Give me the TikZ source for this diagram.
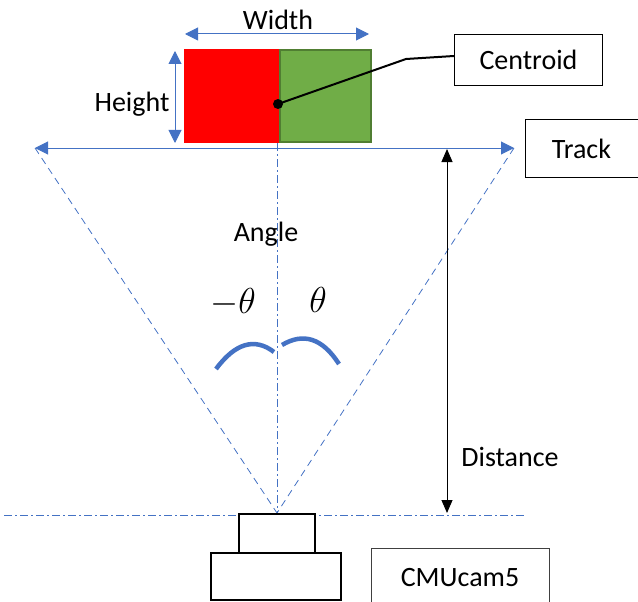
\documentclass[tikz,border=0pt]{standalone}
\usepackage{graphicx}
\usepackage{fontspec}
\setmainfont{Carlito}
\usetikzlibrary{arrows.meta}
\definecolor{lineblue}{HTML}{4472C4}
\definecolor{boxred}{HTML}{FF0000}
\definecolor{boxgreen}{HTML}{70AD47}
\definecolor{greenedge}{HTML}{507E32}
\newcommand{\biglbl}[1]{\scalebox{1.45}{$#1$}}
\tikzset{
  lbl/.style={font=\fontsize{28}{32}\selectfont, inner sep=0pt},
  mathlbl/.style={font=\fontsize{24}{28}\selectfont, inner sep=0pt},
  labelbox/.style={draw=black, line width=1.2pt, font=\fontsize{28}{32}\selectfont, inner sep=0pt},
  bluedim/.style={draw=lineblue, line width=1pt, {Triangle[length=13pt,width=13pt]}-{Triangle[length=13pt,width=13pt]}},
  blackdim/.style={draw=black, line width=1pt, {Triangle[length=13pt,width=11pt]}-{Triangle[length=13pt,width=11pt]}},
  fov/.style={draw=lineblue, line width=0.8pt, dash pattern=on 7pt off 5pt},
  axis/.style={draw=lineblue, line width=0.8pt, dash pattern=on 8pt off 3pt on 2pt off 3pt},
  anglearc/.style={draw=lineblue, line width=4.5pt},
  cambody/.style={draw=black, line width=2pt, fill=white}
}
\begin{document}
\begin{tikzpicture}[x=1pt,y=-1pt]
\useasboundingbox (0,0) rectangle (638,602);

% target blob: red and green halves
\fill[boxred] (184,49) rectangle (280,143);
\filldraw[fill=boxgreen, draw=greenedge, line width=1.5pt] (280,50) rectangle (371,142);

% centre axis and camera baseline
\coordinate (axtop) at (277,143);
\coordinate (lens) at (277,513);
\draw[axis] (axtop) -- (lens);
\coordinate (baseL) at (4,515);
\coordinate (baseR) at (525,515);
\draw[axis] (baseL) -- (baseR);

% field of view
\coordinate (trackL) at (35,148);
\coordinate (trackR) at (514,148);
\draw[fov] (trackL) -- (lens);
\draw[fov] (trackR) -- (lens);
\draw[bluedim] (trackL) -- (trackR);

% width and height dimensions
\coordinate (wL) at (185,34);
\coordinate (wR) at (369,34);
\draw[bluedim] (wL) -- (wR);
\node[lbl] (width) at (278,20) {Width};
\coordinate (hT) at (175,51);
\coordinate (hB) at (175,143);
\draw[bluedim] (hT) -- (hB);
\node[lbl] (height) at (132,104) {Height};

% centroid marker and callout
\node[circle, fill=black, inner sep=0pt, minimum size=10pt] (dot) at (278,104) {};
\node[labelbox, minimum width=148pt, minimum height=51pt] (centroid) at (528.5,60) {Centroid};
\coordinate (bend) at (406,59);
\draw[black, line width=2pt] (dot.center) -- (bend) -- (centroid.west |- 0,56);

% track label
\node[draw=black, line width=1pt, font=\fontsize{28}{32}\selectfont, inner sep=0pt,
      minimum width=113pt, minimum height=57pt] (track) at (581.5,148.5) {Track};

% distance
\coordinate (dT) at (447,149);
\coordinate (dB) at (447,513);
\draw[blackdim] (dT) -- (dB);
\node[lbl] (distance) at (510,457) {Distance};

% angle labels and arcs
\node[lbl] (angle) at (266,234) {Angle};
\node[mathlbl] (mtheta) at (233,302) {\biglbl{-\theta}};
\node[mathlbl] (theta) at (318,300) {\biglbl{\theta}};
\draw[anglearc] (216,369) .. controls (235.3,343) and (254.7,337.3) .. (274,352);
\draw[anglearc] (282,345) .. controls (303.3,332.3) and (322.3,338) .. (339,364);

% camera
\draw[cambody] (239,514) rectangle (315,553);
\draw[cambody] (211,553) rectangle (341,600);
\node[draw=black!75, line width=1pt, font=\fontsize{28}{32}\selectfont, inner sep=0pt,
      minimum width=178pt, minimum height=60pt] (cam) at (460,578) {CMUcam5};
\end{tikzpicture}
\end{document}
